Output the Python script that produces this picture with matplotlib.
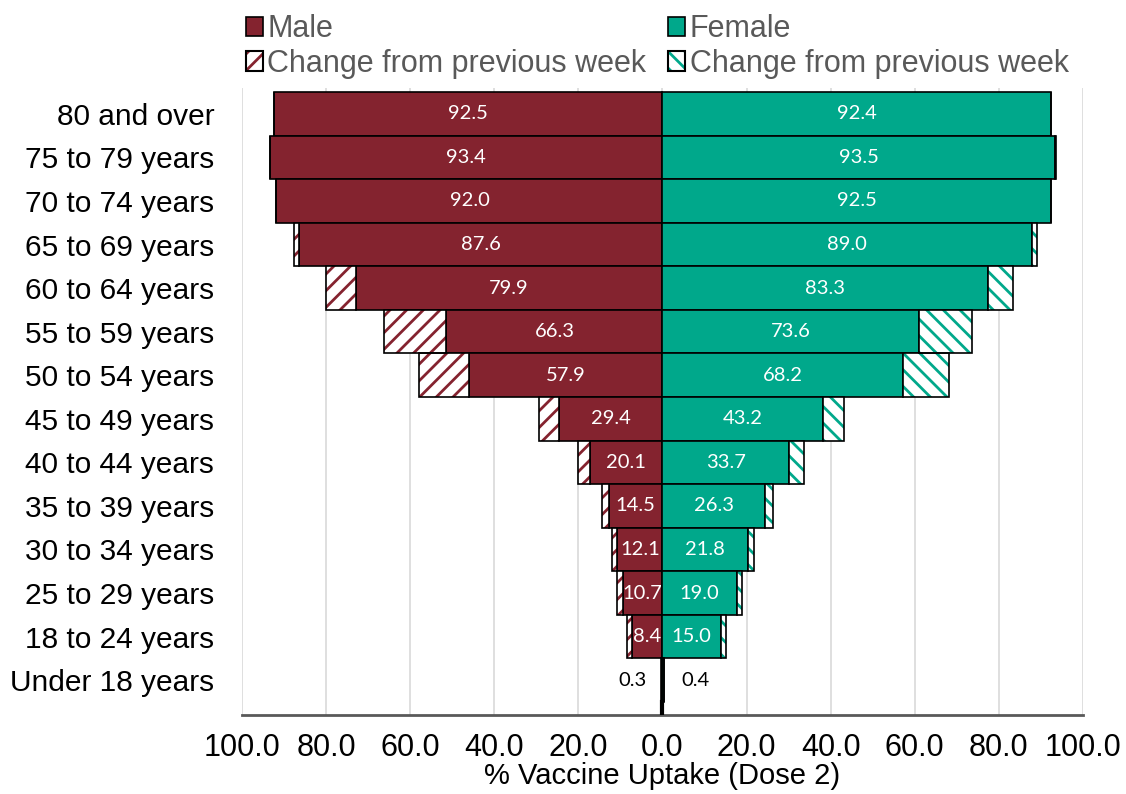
import numpy as np
import matplotlib
matplotlib.use("Agg")
import matplotlib.pyplot as plt
from matplotlib import font_manager
from matplotlib.patches import Patch
from matplotlib.legend_handler import HandlerTuple

# data (dose 2 uptake %, total and weekly change)
age_groups = ["80 and over", "75 to 79 years", "70 to 74 years", "65 to 69 years",
              "60 to 64 years", "55 to 59 years", "50 to 54 years", "45 to 49 years",
              "40 to 44 years", "35 to 39 years", "30 to 34 years", "25 to 29 years",
              "18 to 24 years", "Under 18 years"]
male_total = [92.5, 93.4, 92.0, 87.6, 79.9, 66.3, 57.9, 29.4, 20.1, 14.5, 12.1, 10.7, 8.4, 0.3]
male_change = [0.1, 0.1, 0.2, 1.2, 6.9, 14.9, 12.0, 4.9, 2.8, 1.8, 1.4, 1.3, 1.1, 0.1]
female_total = [92.4, 93.5, 92.5, 89.0, 83.3, 73.6, 68.2, 43.2, 33.7, 26.3, 21.8, 19.0, 15.0, 0.4]
female_change = [0.1, 0.1, 0.2, 1.1, 5.9, 12.5, 11.0, 5.0, 3.5, 2.0, 1.5, 1.3, 1.1, 0.1]
xticks = [-100, -80, -60, -40, -20, 0, 20, 40, 60, 80, 100]

male_col = "#84232F"
female_col = "#00A88B"

names = {f.name for f in font_manager.fontManager.ttflist}
narrow = "Liberation Sans Narrow" if "Liberation Sans Narrow" in names else "Liberation Sans"
label_font = "Lato" if "Lato" in names else "DejaVu Sans"

plt.rcParams["font.family"] = ["Liberation Sans", "DejaVu Sans"]
plt.rcParams["hatch.linewidth"] = 2.0

male_total = np.array(male_total)
male_change = np.array(male_change)
female_total = np.array(female_total)
female_change = np.array(female_change)
male_base = male_total - male_change
female_base = female_total - female_change
y = np.arange(len(age_groups))

fig = plt.figure(figsize=(11.26, 7.94), dpi=100)
ax = fig.add_axes([0.2149, 0.0995, 0.7469, 0.7895])

h = 1.0
# solid bars (previous week level)
ax.barh(y, -male_base, height=h, color=male_col, edgecolor="black", linewidth=1.2, zorder=3)
ax.barh(y, female_base, height=h, color=female_col, edgecolor="black", linewidth=1.2, zorder=3)
# hatched change segments
ax.barh(y, -male_change, left=-male_base, height=h, facecolor="white", edgecolor=male_col,
        hatch="//", linewidth=0, zorder=3)
ax.barh(y, -male_change, left=-male_base, height=h, fill=False, edgecolor="black",
        linewidth=1.2, zorder=4)
ax.barh(y, female_change, left=female_base, height=h, facecolor="white", edgecolor=female_col,
        hatch="\\\\", linewidth=0, zorder=3)
ax.barh(y, female_change, left=female_base, height=h, fill=False, edgecolor="black",
        linewidth=1.2, zorder=4)

# value labels
for i in range(len(age_groups)):
    if male_total[i] < 3:
        ax.text(-(male_total[i] + 3.5), y[i], f"{male_total[i]:.1f}", ha="right", va="center",
                color="black", fontsize=14.5, family=label_font, zorder=5)
        ax.text(female_total[i] + 4.0, y[i], f"{female_total[i]:.1f}", ha="left", va="center",
                color="black", fontsize=14.5, family=label_font, zorder=5)
    else:
        ax.text(-male_base[i] / 2, y[i], f"{male_total[i]:.1f}", ha="center", va="center",
                color="white", fontsize=14.5, family=label_font, zorder=5)
        ax.text(female_base[i] / 2, y[i], f"{female_total[i]:.1f}", ha="center", va="center",
                color="white", fontsize=14.5, family=label_font, zorder=5)

y_bottom = len(age_groups) - 0.5 + 0.3
y_top = -0.59
ax.set_ylim(y_bottom, y_top)
ax.set_xlim(-100, 100)
# centre line running down to the axis under the smallest bars
ax.axvline(0, ymin=0, ymax=0.3 / (y_bottom - y_top), color="black", linewidth=3, zorder=5)

ax.set_yticks(y)
ax.set_yticklabels(age_groups, fontsize=21.5)
ax.set_xticks(xticks)
ax.set_xticklabels([f"{abs(v):.1f}" for v in xticks], fontsize=22, family=narrow)
ax.tick_params(axis="both", length=0)
ax.tick_params(axis="x", pad=13)
ax.tick_params(axis="y", pad=20)
ax.set_xlabel("% Vaccine Uptake (Dose 2)", fontsize=21, family=narrow, va="center")
ax.xaxis.set_label_coords(0.5, -0.097)

ax.grid(axis="x", color="#D9D9D9", linewidth=1.2, zorder=0)
ax.set_axisbelow(True)
for s in ["top", "left", "right"]:
    ax.spines[s].set_visible(False)
ax.spines["bottom"].set_color("#595959")
ax.spines["bottom"].set_linewidth(2)

# legends: one column per sex
def legend_for(col, hatch, x0):
    solid = Patch(facecolor=col, edgecolor="black", linewidth=1.2)
    hatched = Patch(facecolor="white", edgecolor=col, hatch=hatch, linewidth=0)
    outline = Patch(fill=False, edgecolor="black", linewidth=1.5)
    label = "Male" if col == male_col else "Female"
    leg = fig.legend([solid, (hatched, outline)], [label, "Change from previous week"],
                     handler_map={tuple: HandlerTuple(ndivide=1)},
                     loc="upper left", bbox_to_anchor=(x0, 0.99), frameon=False,
                     prop={"family": narrow, "size": 22}, handlelength=0.55,
                     handleheight=0.6, handletextpad=0.15, labelspacing=0.15,
                     borderaxespad=0.1, borderpad=0.1)
    for t in leg.get_texts():
        t.set_color("#595959")
    return leg

legend_for(male_col, "//", 0.213)
legend_for(female_col, "\\\\", 0.588)

fig.savefig("out.png", dpi=100)
